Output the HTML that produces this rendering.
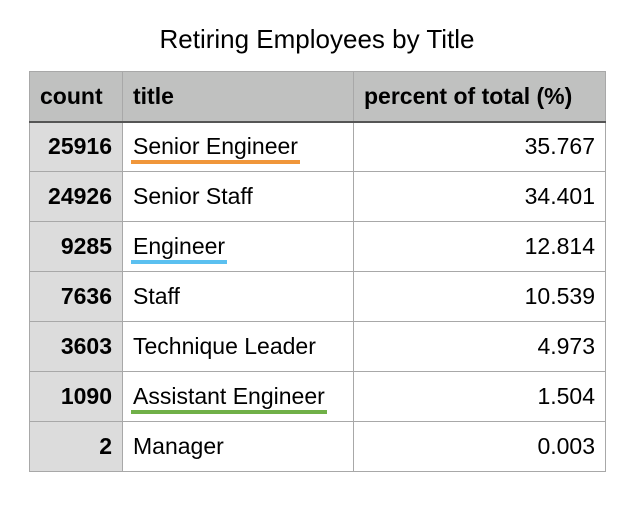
<!DOCTYPE html>
<html><head><meta charset="utf-8"><style>
body{margin:0;width:640px;height:514px;background:#fff;font-family:"Liberation Sans",Arial,sans-serif;position:relative;overflow:hidden}
#title{position:absolute;left:0;top:24px;width:634px;text-align:center;font-size:26px;color:#000}
table{position:absolute;left:29px;top:71px;border-collapse:collapse;font-size:23px}
td,th{border:1px solid #a8a8a8;height:50px;padding:0 10px;box-sizing:border-box}
tr{height:50px}
th{background:#c0c1c0;text-align:left;font-weight:bold;border-bottom:2px solid #555}
td.c{background:#dcdcdc;font-weight:bold;text-align:right;width:93px}
td.t{width:231px}
td.p{width:252px;text-align:right}
th.c{width:93px}
.u{position:relative;display:inline-block}
.u i{position:absolute;left:-2px;right:-2px;bottom:-4px;height:4px}
</style></head><body>
<div id="title">Retiring Employees by Title</div>
<table>
<thead><tr>
<th class="c">count</th>
<th>title</th>
<th>percent of total (%)</th>
</tr></thead>
<tbody id="tb"></tbody>
</table>
<script>
const counts=[25916,24926,9285,7636,3603,1090,2];
const titles=["Senior Engineer","Senior Staff","Engineer","Staff","Technique Leader","Assistant Engineer","Manager"];
const percents=["35.767","34.401","12.814","10.539","4.973","1.504","0.003"];
const underlines=["#f0963a",null,"#5bc0f0",null,null,"#70b048",null];
const tb=document.getElementById('tb');
for(let i=0;i<counts.length;i++){
  const tr=document.createElement('tr');
  
  
  const c=document.createElement('td');c.className='c';c.textContent=counts[i];
  
  
  const t=document.createElement('td');t.className='t';
  
  
  if(underlines[i]){
    const s=document.createElement('span');s.className='u';s.textContent=titles[i];
    const u=document.createElement('i');u.style.background=underlines[i];
    
    
    s.appendChild(u);t.appendChild(s);
  } else t.textContent=titles[i];
  const p=document.createElement('td');p.className='p';p.textContent=percents[i];
  
  
  tr.append(c,t,p);tb.appendChild(tr);
}
</script>
</body></html>
